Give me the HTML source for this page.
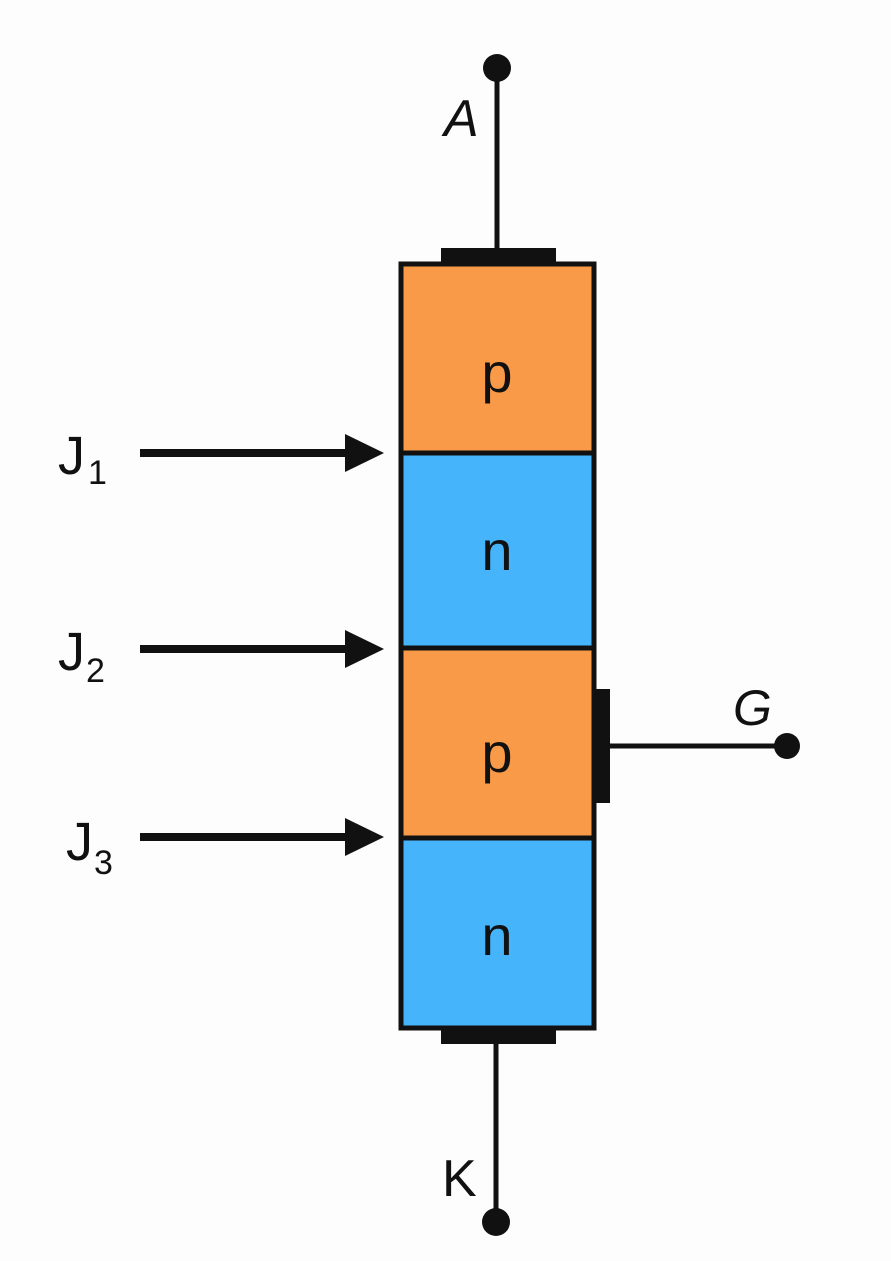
<!DOCTYPE html>
<html><head><meta charset="utf-8"><style>
html,body{margin:0;padding:0;background:#fdfdfd;}
svg{display:block}
text{font-family:"Liberation Sans",sans-serif;fill:#111;}
</style></head><body>
<svg width="891" height="1261" viewBox="0 0 891 1261" xmlns="http://www.w3.org/2000/svg">
<rect width="891" height="1261" fill="#fdfdfd"/>
<rect x="401" y="264" width="193" height="189" fill="#F89A48"/>
<rect x="401" y="453" width="193" height="195" fill="#45B4FB"/>
<rect x="401" y="648" width="193" height="190" fill="#F89A48"/>
<rect x="401" y="838" width="193" height="190" fill="#45B4FB"/>
<rect x="401" y="264" width="193" height="764" fill="none" stroke="#111" stroke-width="5"/>
<line x1="401" y1="453" x2="594" y2="453" stroke="#111" stroke-width="5"/>
<line x1="401" y1="648" x2="594" y2="648" stroke="#111" stroke-width="5"/>
<line x1="401" y1="838" x2="594" y2="838" stroke="#111" stroke-width="5"/>
<rect x="441" y="248" width="115" height="16" fill="#111"/>
<rect x="441" y="1028" width="115" height="16" fill="#111"/>
<rect x="594" y="689" width="16" height="114" fill="#111"/>
<line x1="497" y1="68" x2="497" y2="250" stroke="#111" stroke-width="5"/>
<circle cx="497" cy="68" r="14" fill="#111"/>
<line x1="496" y1="1042" x2="496" y2="1222" stroke="#111" stroke-width="5"/>
<circle cx="496" cy="1222" r="14" fill="#111"/>
<line x1="608" y1="746" x2="787" y2="746" stroke="#111" stroke-width="5"/>
<circle cx="787" cy="746" r="13" fill="#111"/>
<g fill="#111" stroke="#111">
<line x1="140" y1="453" x2="350" y2="453" stroke-width="8"/>
<polygon points="345,434 384,453 345,472" stroke="none"/>
<line x1="140" y1="649" x2="350" y2="649" stroke-width="8"/>
<polygon points="345,630 384,649 345,668" stroke="none"/>
<line x1="140" y1="837" x2="350" y2="837" stroke-width="8"/>
<polygon points="345,818 384,837 345,856" stroke="none"/>
</g>
<text x="497" y="392" font-size="56" text-anchor="middle">p</text>
<text x="497" y="570" font-size="56" text-anchor="middle">n</text>
<text x="497" y="772" font-size="56" text-anchor="middle">p</text>
<text x="497" y="955" font-size="56" text-anchor="middle">n</text>
<text x="444" y="136" font-size="52" font-style="italic">A</text>
<text x="442" y="1196" font-size="52">K</text>
<text x="733" y="725" font-size="50" font-style="italic">G</text>
<text x="58" y="474" font-size="54">J</text><text x="88" y="484" font-size="34">1</text>
<text x="58" y="670" font-size="54">J</text><text x="86" y="682" font-size="34">2</text>
<text x="66" y="860" font-size="54">J</text><text x="94" y="874" font-size="34">3</text>
</svg>
</body></html>
